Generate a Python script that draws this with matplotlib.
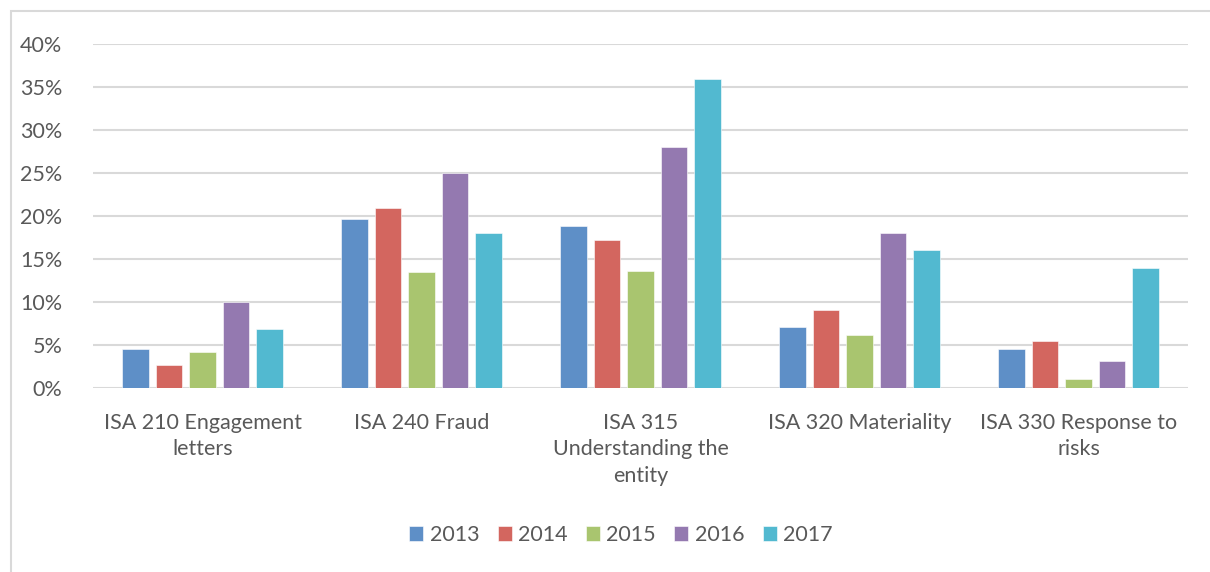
import matplotlib
matplotlib.use("Agg")
import matplotlib.pyplot as plt
from matplotlib.patches import Rectangle
from matplotlib.ticker import FuncFormatter, MultipleLocator
import numpy as np

categories = ["ISA 210 Engagement\nletters", "ISA 240 Fraud",
              "ISA 315\nUnderstanding the\nentity", "ISA 320 Materiality",
              "ISA 330 Response to\nrisks"]
years = ["2013", "2014", "2015", "2016", "2017"]
v2013 = [4.5, 19.7, 18.8, 7.1, 4.5]
v2014 = [2.7, 20.9, 17.2, 9.1, 5.5]
v2015 = [4.2, 13.5, 13.6, 6.2, 1.1]
v2016 = [10.0, 25.0, 28.0, 18.0, 3.1]
v2017 = [6.9, 18.0, 35.9, 16.0, 14.0]
series = [v2013, v2014, v2015, v2016, v2017]
colors = ["#5E8FC7", "#D3665F", "#A9C56F", "#9479B0", "#52B9D0"]

plt.rcParams['font.family'] = ['Lato', 'DejaVu Sans']
TXT = "#595959"

fig = plt.figure(figsize=(12.10, 5.72), dpi=100)
W, H = 1210, 572
ax = fig.add_axes([93 / W, 1 - 388 / H, (1188 - 93) / W, (388 - 44) / H])

x = np.arange(len(categories))
step = 0.153
width = 0.119
for i, (vals, c, y) in enumerate(zip(series, colors, years)):
    ax.bar(x + (i - 2) * step, [v / 100 for v in vals], width=width, color=c,
           label=y, zorder=3, edgecolor='white', linewidth=0.4)

ax.set_xlim(-0.5, len(categories) - 0.5)
ax.set_ylim(0, 0.40)
ax.yaxis.set_major_locator(MultipleLocator(0.05))
ax.yaxis.set_major_formatter(FuncFormatter(lambda v, p: f"{round(v * 100)}%"))
ax.grid(axis='y', color='#D9D9D9', linewidth=1.5, zorder=0)
for s in ax.spines.values():
    s.set_visible(False)
ax.tick_params(axis='both', length=0, labelsize=15.5, labelcolor=TXT)
ax.tick_params(axis='y', pad=22)
ax.tick_params(axis='x', pad=18)
ax.set_xticks(x)
ax.set_xticklabels(categories, linespacing=1.4)

fig.legend(loc='center', bbox_to_anchor=(621 / W, 1 - 535 / H), ncol=5,
           frameon=False, fontsize=15.5, labelcolor=TXT, handlelength=0.65,
           handleheight=0.65, handletextpad=0.3, columnspacing=0.85)

fig.patches.append(Rectangle((10.5 / W, -0.2), 1.2, 1.2 - 10.5 / H + 0.0,
                             transform=fig.transFigure, fill=False,
                             edgecolor='#D9D9D9', linewidth=1.5))

fig.savefig("out.png", dpi=100, facecolor='white')
